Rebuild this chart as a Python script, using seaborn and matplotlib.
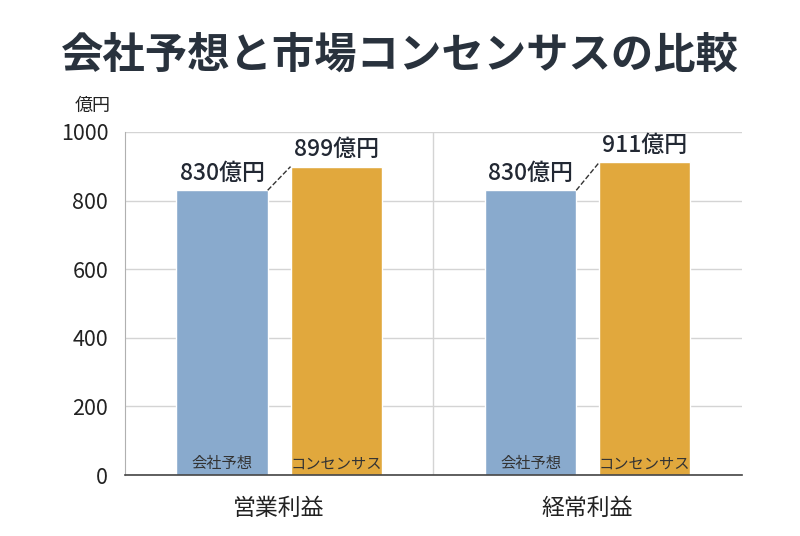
import matplotlib
matplotlib.use('Agg')
import matplotlib.pyplot as plt
import seaborn as sns
import pandas as pd

# Data
metrics = ['営業利益', '経常利益']
series = ['会社予想', 'コンセンサス']
company = [830, 830]
consensus = [899, 911]
colors = ['#89aacd', '#e1a83d']

df = pd.DataFrame({
    'metric': metrics * 2,
    'series': [series[0]] * 2 + [series[1]] * 2,
    'value': company + consensus,
})

sns.set_style('white')
plt.rcParams['font.family'] = ['Noto Sans CJK JP', 'DejaVu Sans']

fig = plt.figure(figsize=(8, 5.36), dpi=100)
ax = fig.add_axes([0.156, 0.1138, 0.7715, 0.64])

sns.barplot(data=df, x='metric', y='value', hue='series', order=metrics,
            hue_order=series, palette=colors, width=0.74, gap=0.2,
            ax=ax, legend=False, saturation=1)

ax.set_ylim(0, 1000)
ax.set_xlim(-0.5, 1.5)
ax.set_yticks(range(0, 1001, 200))
ax.yaxis.grid(True, color='#d4d4d4', linewidth=1)
ax.set_axisbelow(True)
ax.axvline(0.5, color='#d4d4d4', linewidth=1, zorder=0)

for s in ['top', 'right']:
    ax.spines[s].set_visible(False)
ax.spines['left'].set_color('#b0b0b0')
ax.spines['bottom'].set_color('#444444')
ax.spines['bottom'].set_linewidth(1.2)

ax.tick_params(axis='y', labelsize=15.5, colors='#222222', length=0, pad=12)
ax.tick_params(axis='x', labelsize=16.5, colors='#222222', length=0, pad=16)
ax.set_xlabel('')
ax.set_ylabel('')

# bar annotations
bars = ax.patches
for b in bars:
    if b.get_height() == 0:
        continue
    cx = b.get_x() + b.get_width() / 2
    ax.annotate(f'{int(b.get_height())}億円', (cx, b.get_height()),
                xytext=(0, 4), textcoords='offset points', ha='center',
                va='bottom', fontsize=16.5, fontweight='medium',
                color='#222833')

# series names inside bars
for b, name in zip(bars, [series[0]] * 2 + [series[1]] * 2):
    cx = b.get_x() + b.get_width() / 2
    ax.text(cx, 8, name, ha='center', va='bottom', fontsize=11,
            color='#333333')

# dashed connectors
n = len(metrics)
for i in range(n):
    b1, b2 = bars[i], bars[i + n]
    ax.plot([b1.get_x() + b1.get_width(), b2.get_x()],
            [b1.get_height(), b2.get_height()], linestyle='--',
            color='#333333', linewidth=1)

fig.text(0.5, 0.897, '会社予想と市場コンセンサスの比較', ha='center',
         va='center', fontsize=30.5, fontweight='bold', color='#29323d')
fig.text(0.116, 0.803, '億円', ha='center', va='center', fontsize=13,
         color='#222222')

fig.savefig('out.png', dpi=100, facecolor='white')
